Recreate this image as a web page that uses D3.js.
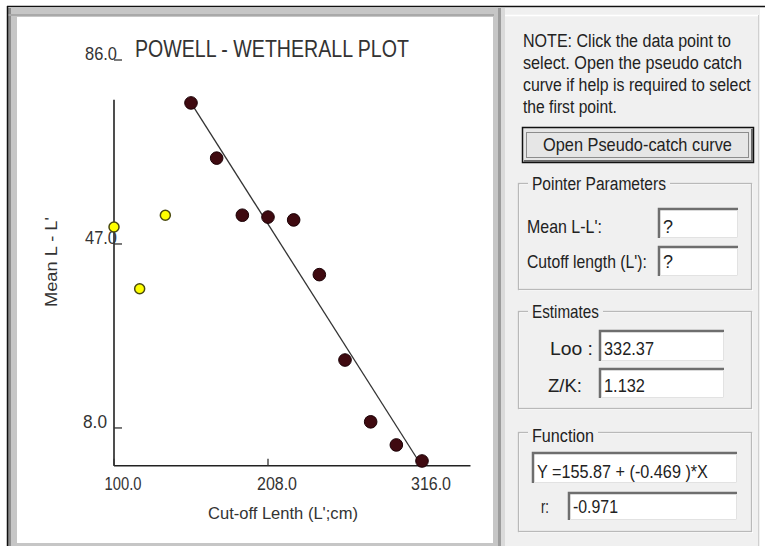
<!DOCTYPE html>
<html>
<head>
<meta charset="utf-8">
<script src="https://cdnjs.cloudflare.com/ajax/libs/d3/7.8.5/d3.min.js"></script>
<style>
body { margin: 0; background: #fff; }
text { font-family: "Liberation Sans", Arial, sans-serif; }
</style>
</head>
<body>
<div id="plot"></div>
<script>
// points left out of the fit (yellow) and points used in the fit (dark)
var cutoffOpen = [100, 118, 136]
var meanOpen = [50.6, 37.5, 53.1]
var cutoffUsed = [154, 172, 190, 208, 226, 244, 262, 280, 298, 316]
var meanUsed = [76.9, 65.2, 53.1, 52.7, 52.1, 40.5, 22.4, 9.3, 4.4, 1.0]

// regression line ends, as drawn
var fitX = [154, 315.3]
var fitY = [76.9, 0.2]

var xTicks = [100, 208, 316]
var yTicks = [8, 47, 86]
var xAxisEnd = 350
var yAxisTop = 77.6

var noteLines = ['NOTE: Click the data point to', 'select. Open the pseudo catch',
                 'curve if help is required to select', 'the first point.']
var meanLL = '?'
var cutoffLen = '?'
var loo = '332.37'
var zk = '1.132'
var funcText = 'Y =155.87 + (-0.469 )*X'
var rValue = '-0.971'

var width = 765
var height = 546

var svg = d3.select('#plot')
            .append('svg')
            .attr('width', width)
            .attr('height', height)

// text squeezed sideways to the width it has in the screenshot
function label(g, x, y, str, size, w, color, anchor, rot) {
  var t = g.append('text')
    .attr('font-size', size)
    .attr('fill', color || '#222')
    .attr('text-anchor', anchor || 'start')
    .text(str)
  var sx = 1
  if (w) sx = w / t.node().getComputedTextLength()
  t.attr('transform', 'translate(' + x + ',' + y + ')' + (rot ? ' rotate(' + rot + ')' : '') + ' scale(' + sx + ',1)')
  return t
}

// ---- window frame ----
svg.append('rect').attr('width', width).attr('height', height).attr('fill', '#fff')
svg.append('rect').attr('x', 8).attr('y', 8).attr('width', 497).attr('height', 538).attr('fill', '#c6c6c6')
svg.append('rect').attr('x', 8).attr('y', 8).attr('width', 3).attr('height', 538).attr('fill', '#8c8c8c')
svg.append('rect').attr('x', 8).attr('y', 14).attr('width', 486).attr('height', 2).attr('fill', '#a9a9a9')
svg.append('rect').attr('x', 17).attr('y', 17).attr('width', 476).attr('height', 526).attr('fill', '#fff')
svg.append('rect').attr('x', 498).attr('y', 8).attr('width', 3).attr('height', 538).attr('fill', '#9c9c9c')
svg.append('rect').attr('x', 501).attr('y', 8).attr('width', 4).attr('height', 538).attr('fill', '#dadada')
svg.append('rect').attr('x', 505).attr('y', 8).attr('width', 255).attr('height', 538).attr('fill', '#f0f0f0')
svg.append('line').attr('x1', 505).attr('y1', 15.5).attr('x2', 759).attr('y2', 15.5).attr('stroke', '#fff').attr('stroke-width', 1.5)
svg.append('line').attr('x1', 758.5).attr('y1', 15).attr('x2', 758.5).attr('y2', 546).attr('stroke', '#d0d0d0')
svg.append('line').attr('x1', 7).attr('y1', 6.5).attr('x2', width).attr('y2', 6.5).attr('stroke', '#111').attr('stroke-width', 1.5)
svg.append('line').attr('x1', 7.5).attr('y1', 6).attr('x2', 7.5).attr('y2', height).attr('stroke', '#111').attr('stroke-width', 1.5)

// ---- plot ----
var x = d3.scaleLinear().domain([100, 316]).range([114, 422])
var y = d3.scaleLinear().domain([0, 86]).range([465.7, 60])

var plot = svg.append('g')

label(plot, 135, 57, 'POWELL - WETHERALL PLOT', 23, 274, '#333')

plot.append('line')
  .attr('x1', x(100)).attr('y1', y(yAxisTop))
  .attr('x2', x(100)).attr('y2', y(0))
  .attr('stroke', '#222').attr('stroke-width', 1.6)
plot.append('line')
  .attr('x1', x(100)).attr('y1', y(0))
  .attr('x2', x(xAxisEnd)).attr('y2', y(0))
  .attr('stroke', '#222').attr('stroke-width', 1.6)

var yLabW = { 8: 24, 47: 32, 86: 32 }
yTicks.forEach(function(v) {
  plot.append('line')
    .attr('x1', x(100)).attr('y1', y(v))
    .attr('x2', x(100) + 8).attr('y2', y(v))
    .attr('stroke', '#333').attr('stroke-width', 1.3)
  label(plot, v < 10 ? 83 : 85, y(v), v.toFixed(1), 18, yLabW[v], '#333')
})

xTicks.forEach(function(v) {
  plot.append('line')
    .attr('x1', x(v)).attr('y1', y(0))
    .attr('x2', x(v)).attr('y2', y(0) - 7)
    .attr('stroke', '#333').attr('stroke-width', 1.3)
  label(plot, x(v) + 9, 490, v.toFixed(1), 18, v == 100 ? 37 : 40, '#333', 'middle')
})

label(plot, 208, 519, "Cut-off Lenth (L';cm)", 17, 150, '#333')
label(plot, 57, 307, "Mean L - L'", 17, 90, '#333', 'start', -90)

plot.append('line')
  .attr('x1', x(fitX[0])).attr('y1', y(fitY[0]))
  .attr('x2', x(fitX[1])).attr('y2', y(fitY[1]))
  .attr('stroke', '#333').attr('stroke-width', 1.3)

plot.selectAll('circle.used')
  .data(d3.zip(cutoffUsed, meanUsed))
  .enter().append('circle')
  .attr('class', 'used')
  .attr('cx', function(d) { return x(d[0]) })
  .attr('cy', function(d) { return y(d[1]) })
  .attr('r', 6.3)
  .attr('fill', '#3f0a10')
  .attr('stroke', '#1a0005')

plot.selectAll('circle.open')
  .data(d3.zip(cutoffOpen, meanOpen))
  .enter().append('circle')
  .attr('class', 'open')
  .attr('cx', function(d) { return x(d[0]) })
  .attr('cy', function(d) { return y(d[1]) })
  .attr('r', 5)
  .attr('fill', '#ffff00')
  .attr('stroke', '#4a4a10')
  .attr('stroke-width', 1.5)

// ---- right panel ----
var side = svg.append('g')

var noteW = [208, 219, 228, 94]
noteLines.forEach(function(s, i) {
  label(side, 523, 47 + i * 22, s, 19, noteW[i])
})

// button
side.append('rect').attr('x', 522.5).attr('y', 127.5).attr('width', 231).attr('height', 35)
  .attr('fill', '#e6e6e6').attr('stroke', '#111').attr('stroke-width', 1.5)
side.append('polyline').attr('points', '524,161 752,161 752,129')
  .attr('fill', 'none').attr('stroke', '#6a6a6a').attr('stroke-width', 2)
side.append('rect').attr('x', 526.5).attr('y', 132.5).attr('width', 222).attr('height', 25)
  .attr('fill', 'none').attr('stroke', '#333').attr('stroke-dasharray', '1,1')
label(side, 543, 151, 'Open Pseudo-catch curve', 19, 189)

function groupBox(bx, by, bw, bh, title, tw, tb) {
  side.append('rect').attr('x', bx + 1.5).attr('y', by + 1.5).attr('width', bw).attr('height', bh)
    .attr('fill', 'none').attr('stroke', '#fff')
  side.append('rect').attr('x', bx + 0.5).attr('y', by + 0.5).attr('width', bw).attr('height', bh)
    .attr('fill', 'none').attr('stroke', '#b9b9b9').attr('stroke-width', 1.3)
  side.append('rect').attr('x', bx + 10).attr('y', by - 6).attr('width', tw + 8).attr('height', 12)
    .attr('fill', '#f0f0f0')
  label(side, bx + 14, tb, title, 18, tw)
}

function inputBox(bx, by, bw, bh, value, tw, tb) {
  side.append('rect').attr('x', bx).attr('y', by).attr('width', bw).attr('height', bh).attr('fill', '#fff')
  side.append('polyline').attr('points', [bx + 1, by + bh, bx + 1, by + 1, bx + bw, by + 1].join(' '))
    .attr('fill', 'none').attr('stroke', '#6e6e6e').attr('stroke-width', 2.5)
  side.append('polyline').attr('points', [bx + 2, by + bh - 0.5, bx + bw - 0.5, by + bh - 0.5, bx + bw - 0.5, by + 2].join(' '))
    .attr('fill', 'none').attr('stroke', '#e2e2e2')
  label(side, bx + 5, tb, value, 18, tw)
}

groupBox(518, 183, 233, 106, 'Pointer Parameters', 134, 190)
label(side, 527, 233, "Mean L-L':", 18, 75)
inputBox(658, 208, 80, 30, meanLL, null, 233)
label(side, 527, 268, "Cutoff length (L'):", 18, 120)
inputBox(658, 246, 80, 30, cutoffLen, null, 268)

groupBox(518, 311, 233, 97, 'Estimates', 67, 318)
label(side, 550, 355, 'Loo :', 18, 43)
inputBox(599, 330, 125, 31, loo, 50, 355)
label(side, 548, 392, 'Z/K:', 18, 34)
inputBox(599, 368, 125, 30, zk, 41, 392)

groupBox(518, 432, 233, 99, 'Function', 62, 442)
inputBox(532, 452, 205, 31, funcText, 171, 478)
label(side, 541, 513, 'r:', 18, 8)
inputBox(568, 492, 169, 28, rValue, 45, 513)
</script>
</body>
</html>
